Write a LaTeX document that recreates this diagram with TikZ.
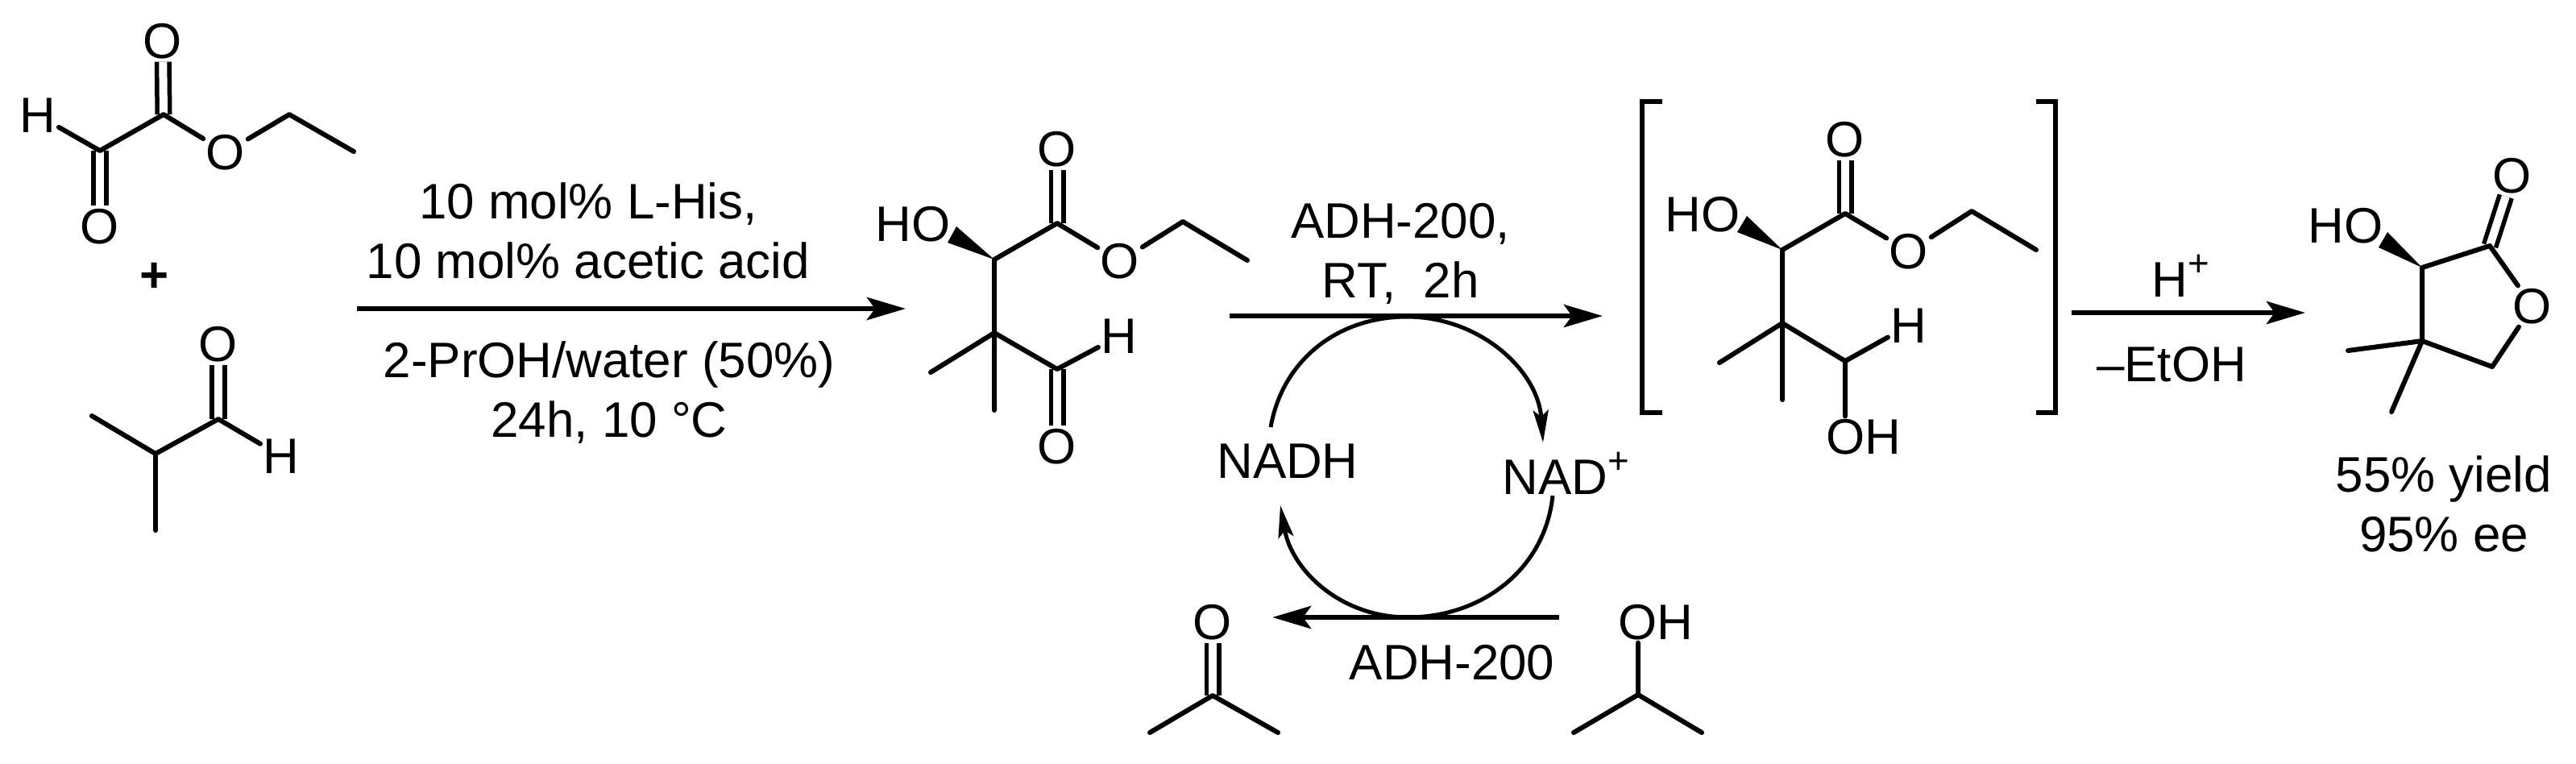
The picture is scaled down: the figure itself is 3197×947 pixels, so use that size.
\documentclass[tikz,border=0pt]{standalone}
\usepackage{fontspec}
\setmainfont{Liberation Sans}
\usetikzlibrary{arrows.meta}
\newcommand{\plusup}{\raisebox{0.26cm}{\fontsize{13}{13}\selectfont +}}

\begin{document}
\begin{tikzpicture}[
        x=0.01cm, y=-0.01cm,
        every node/.style={font=\fontsize{17.6}{21}\selectfont},
        atom/.style={inner sep=0.03cm},
        txt/.style={inner sep=0pt, anchor=base, align=center},
        bond/.style={line width=0.06cm, line cap=round, line join=round},
        dbond/.style={double, double distance=0.1cm, line width=0.055cm},
        wedge/.style={fill=black},
        bracket/.style={line width=0.065cm},
        rxn/.style={line width=0.065cm, -{Stealth[length=0.48cm, width=0.28cm, inset=0.1cm]}},
        cycle/.style={line width=0.05cm, -{Stealth[length=0.4cm, width=0.19cm, inset=0.08cm]}}
    ]
        \useasboundingbox (0,0) rectangle (3197,947);

        % Ethyl glyoxylate
        \node[atom] (aO1) at (202,51) {O};
        \node[atom] (aO2) at (124,281) {O};
        \node[atom] (aO3) at (280,189) {O};
        \node[atom] (aH) at (47,143) {H};
        \coordinate (aC1) at (203,142);
        \coordinate (aC2) at (124,187);
        \coordinate (aC3) at (359,142);
        \coordinate (aC4) at (439,188);
        \draw[dbond] (aC1) -- (aO1);
        \draw[dbond] (aC2) -- (aO2);
        \draw[bond] (aH) -- (aC2) -- (aC1) -- (aO3) -- (aC3) -- (aC4);

        \node (plus) at (192,344) {\textbf{+}};

        % Isobutyraldehyde
        \node[atom] (bO) at (271,427) {O};
        \node[atom] (bH) at (349,566) {H};
        \coordinate (bC1) at (271,520);
        \coordinate (bC2) at (193,563);
        \coordinate (bC3) at (114,516);
        \coordinate (bC4) at (193,658);
        \draw[dbond] (bC1) -- (bO);
        \draw[bond] (bC3) -- (bC2) -- (bC1) -- (bH);
        \draw[bond] (bC2) -- (bC4);

        % First step
        \coordinate (r1s) at (443,383);
        \coordinate (r1e) at (1124,383);
        \draw[rxn] (r1s) -- (r1e);
        \node[txt] (r1top) at (730,345) {10 mol\% L-His,\\10 mol\% acetic acid};
        \node[txt] (r1bot) at (756,542) {2-PrOH/water (50\%)\\24h, 10 °C};

        % Aldol product
        \node[atom] (cO1) at (1312,185) {O};
        \node[atom] (cO2) at (1390,324) {O};
        \node[atom] (cO3) at (1312,554) {O};
        \node[atom] (cH) at (1389,417) {H};
        \node[atom] (cOH) at (1133,278) {HO};
        \coordinate (cC1) at (1312,277);
        \coordinate (cC2) at (1234,322);
        \coordinate (cC3) at (1234,413);
        \coordinate (cC4) at (1312,458);
        \coordinate (cC5) at (1468,275);
        \coordinate (cC6) at (1548,323);
        \coordinate (cC7) at (1155,462);
        \coordinate (cC8) at (1234,509);
        \draw[dbond] (cC1) -- (cO1);
        \draw[dbond] (cC4) -- (cO3);
        \draw[bond] (cC2) -- (cC1) -- (cO2) -- (cC5) -- (cC6);
        \draw[bond] (cC2) -- (cC3) -- (cC4) -- (cH);
        \draw[bond] (cC7) -- (cC3) -- (cC8);
        \fill[wedge] (cC2) -- (1187,281) -- (1176,301) -- cycle;

        % Reduction with cofactor cycle
        \coordinate (r2s) at (1526,392);
        \coordinate (r2e) at (1989,392);
        \draw[rxn] (r2s) -- (r2e);
        \node[txt] (r2top) at (1738,369) {ADH-200,\\RT,\ \ 2h};
        \node[txt] (nadh) at (1598,593) {NADH};
        \node[txt] (nad) at (1943,613) {NAD\plusup};
        \coordinate (nadhup) at (1577,530);
        \coordinate (cyctop) at (1746,393);
        \coordinate (nadup) at (1915,549);
        \coordinate (naddown) at (1927,615);
        \coordinate (cycbot) at (1747,766);
        \coordinate (nadhdown) at (1589,627);
        \draw[cycle] (nadhup) to[out=80, in=180] (cyctop) to[out=0, in=94] (nadup);
        \draw[cycle] (naddown) to[out=-96, in=0] (cycbot) to[out=180, in=-80] (nadhdown);
        \coordinate (r3s) at (1935,766);
        \coordinate (r3e) at (1579,766);
        \draw[rxn] (r3s) -- (r3e);
        \node[txt] (r3lab) at (1802,843) {ADH-200};

        % Acetone
        \node[atom] (dO) at (1505,772) {O};
        \coordinate (dC1) at (1505,863);
        \coordinate (dC2) at (1427,909);
        \coordinate (dC3) at (1586,909);
        \draw[dbond] (dC1) -- (dO);
        \draw[bond] (dC2) -- (dC1) -- (dC3);

        % 2-Propanol
        \node[atom] (eOH) at (2055,772) {OH};
        \coordinate (eC1) at (2033,862);
        \coordinate (eC2) at (1953,909);
        \coordinate (eC3) at (2112,909);
        \draw[bond] (eC2) -- (eC1) -- (eC3);
        \draw[bond] (eC1) -- (eC1 |- eOH.south);

        % Intermediate in brackets
        \coordinate (brl1) at (2063,126);
        \coordinate (brl2) at (2063,512);
        \coordinate (brr1) at (2527,126);
        \coordinate (brr2) at (2527,512);
        \draw[bracket] (brl1) -- (2038,126) -- (2038,512) -- (brl2);
        \draw[bracket] (brr1) -- (2551,126) -- (2551,512) -- (brr2);
        \node[atom] (fO1) at (2290,173) {O};
        \node[atom] (fO2) at (2369,312) {O};
        \node[atom] (fH) at (2369,404) {H};
        \node[atom] (fOH1) at (2113,266) {HO};
        \node[atom] (fOH2) at (2313,542) {OH};
        \coordinate (fC1) at (2290,265);
        \coordinate (fC2) at (2212,310);
        \coordinate (fC3) at (2212,401);
        \coordinate (fC4) at (2290,448);
        \coordinate (fC5) at (2447,262);
        \coordinate (fC6) at (2527,310);
        \coordinate (fC7) at (2134,450);
        \coordinate (fC8) at (2212,496);
        \draw[dbond] (fC1) -- (fO1);
        \draw[bond] (fC2) -- (fC1) -- (fO2) -- (fC5) -- (fC6);
        \draw[bond] (fC2) -- (fC3) -- (fC4) -- (fH);
        \draw[bond] (fC7) -- (fC3) -- (fC8);
        \draw[bond] (fC4) -- (fC4 |- fOH2.north);
        \fill[wedge] (fC2) -- (2168,268) -- (2156,288) -- cycle;

        % Lactonisation
        \coordinate (r4s) at (2571,388);
        \coordinate (r4e) at (2861,388);
        \draw[rxn] (r4s) -- (r4e);
        \node[txt] (r4top) at (2706,368) {H\plusup};
        \node[txt] (r4bot) at (2695,473) {–EtOH};

        % Lactone
        \node[atom] (gO1) at (3118,218) {O};
        \node[atom] (gO2) at (3143,380) {O};
        \node[atom] (gOH) at (2911,280) {HO};
        \coordinate (gC1) at (3090,305);
        \coordinate (gC2) at (3006,332);
        \coordinate (gC3) at (3006,423);
        \coordinate (gC4) at (3093,455);
        \coordinate (gC5) at (2914,435);
        \coordinate (gC6) at (2968,511);
        \draw[dbond] (gC1) -- (gO1);
        \draw[bond] (gC3) -- (gC2) -- (gC1) -- (gO2) -- (gC4) -- (gC3);
        \draw[bond] (gC5) -- (gC3) -- (gC6);
        \fill[wedge] (gC2) -- (2963,288) -- (2952,307) -- cycle;
        \node[txt] (yield) at (3033,684) {55\% yield\\95\% ee};
    \end{tikzpicture}
\end{document}
